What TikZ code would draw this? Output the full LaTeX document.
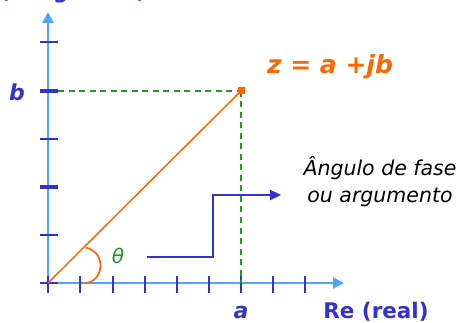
\documentclass[tikz,border=0pt]{standalone}
\usepackage{fontspec}
\setmainfont{DejaVu Sans}
\usetikzlibrary{arrows.meta,calc}
\definecolor{axisblue}{HTML}{4DA6FF}
\definecolor{tickblue}{HTML}{3333CC}
\definecolor{dgreen}{HTML}{229922}
\definecolor{zorange}{HTML}{FF6600}
\begin{document}
\begin{tikzpicture}[x=1pt,y=-1pt,
  axis/.style={draw=axisblue,line width=2.5pt,-{Triangle[length=11pt,width=11pt]}},
  tick/.style={draw=tickblue,line width=2pt},
  bigtick/.style={draw=tickblue,line width=3.5pt},
  guide/.style={draw=dgreen,line width=2.2pt,dash pattern=on 6pt off 4.5pt},
  lbl/.style={text=tickblue,font=\fontsize{22}{26}\selectfont\bfseries\itshape,inner sep=0pt},
  pointer/.style={draw=tickblue,line width=2.3pt,-{Triangle[length=11pt,width=10pt]}}]
\useasboundingbox (0,0) rectangle (463,323);
\clip (0,0) rectangle (463,323);
\coordinate (O) at (48,283);
\coordinate (Ytip) at (48,12);
\coordinate (Xtip) at (344,283);
\coordinate (P) at (241,91);
\coordinate (Bstart) at (58,91);
\coordinate (Aend) at (241,283);
\coordinate (Lon) at (85.5,247.5);
\coordinate (Lax) at (85,283);
\coordinate (Ps) at (147,257);
\coordinate (Pt) at (281,195);
% clipped top title
\node[anchor=base west,inner sep=0pt,text=tickblue,font=\fontsize{21}{25}\selectfont\bfseries] (imtitle) at (0,-1.2) {(imaginário)};
% axes
\draw[axis] (O) -- (Ytip);
\draw[axis] (O) -- (Xtip);
% ticks
\foreach \x in {48,80,113,145,177,209,241,273,305} \draw[tick] (\x,276) -- (\x,293);
\foreach \y in {283,235,139,42} \draw[tick] (40,\y) -- (58,\y);
\foreach \y in {187,91} \draw[bigtick] (40,\y) -- (58,\y);
% guides
\draw[guide] (Bstart) -- (P);
\draw[guide] (P) -- (Aend);
% vector
\draw[zorange,line width=1.5pt] (O) -- (P);
\fill[zorange] ($(P)+(-3.5,-3.5)$) rectangle ($(P)+(3.5,3.5)$);
% angle arc
\draw[zorange,line width=1.7pt] (Lon) .. controls (107,252) and (104,282) .. (Lax);
\node[text=dgreen,font=\fontsize{20}{24}\selectfont\itshape,inner sep=0pt] (theta) at (118,256) {θ};
% pointer
\draw[pointer] (Ps) -- (213,257) -- (213,195) -- (Pt);
% labels
\node[lbl] (blbl) at (17,92) {b};
\node[lbl] (albl) at (241,312) {a};
\node[text=tickblue,font=\fontsize{21.5}{25}\selectfont\bfseries,inner sep=0pt] (re) at (376,312) {Re (real)};
\node[text=zorange,font=\fontsize{25}{30}\selectfont\bfseries\itshape,inner sep=0pt] (z) at (330,67) {z = a +jb};
\node[align=center,font=\fontsize{20.5}{27}\selectfont\itshape,inner sep=0pt] (ang) at (380,182) {Ângulo de fase\\ou argumento};
\end{tikzpicture}
\end{document}
